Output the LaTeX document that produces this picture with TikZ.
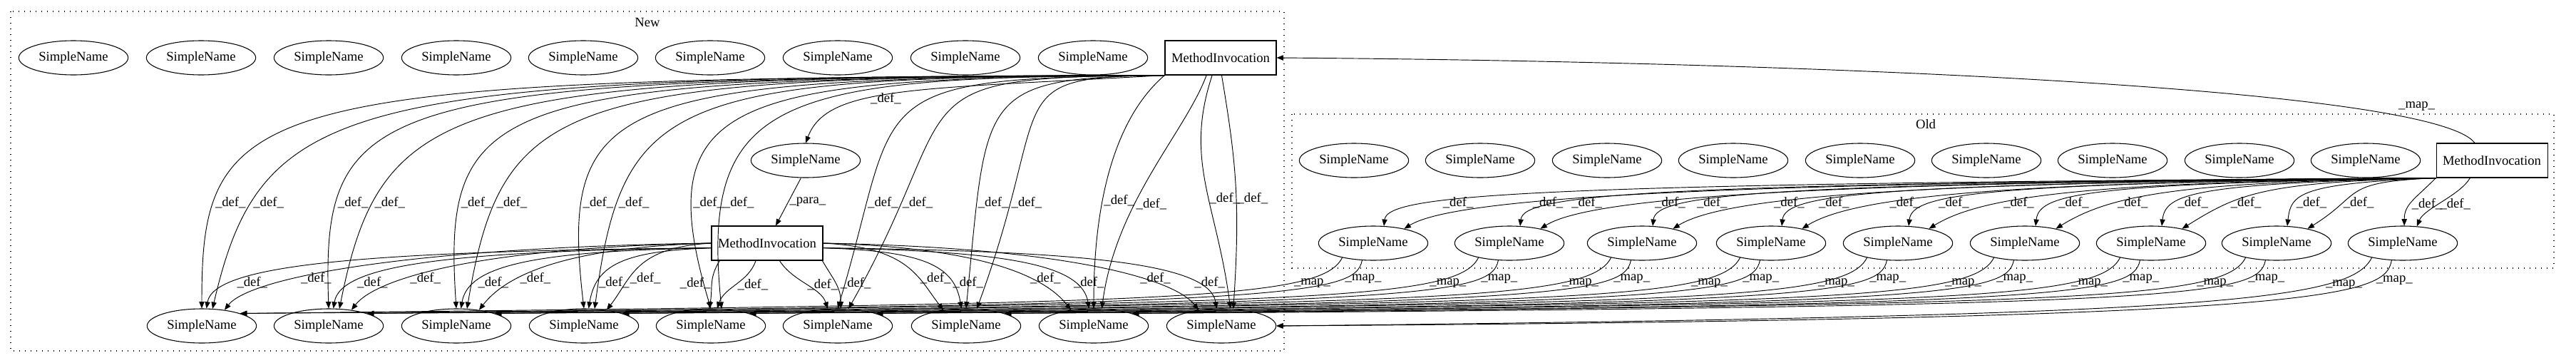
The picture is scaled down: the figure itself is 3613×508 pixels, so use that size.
\documentclass[tikz,border=0pt]{standalone}
\usepackage{fontspec}
\setmainfont{Liberation Serif}
\usepackage{tikz}
\usetikzlibrary{shapes.geometric, arrows.meta, positioning, calc}

\newcommand{\gvfont}{\fontsize{14pt}{16pt}\selectfont}

\tikzset{
  sname/.style={draw, ellipse, line width=0.8pt, minimum width=115pt, minimum height=36pt, inner sep=0pt, font=\gvfont},
  minv/.style={draw, rectangle, line width=0.8pt, minimum width=117pt, minimum height=36pt, inner sep=0pt, font=\gvfont},
  edge/.style={line width=0.7pt, -{Triangle[length=7pt, width=5.5pt]}},
  elab/.style={font=\gvfont, inner sep=1pt, right},
  cluster/.style={line width=0.9pt, dash pattern=on 1pt off 5pt},
}

\begin{document}
\begin{tikzpicture}[x=0.75pt, y=-0.75pt]
    \useasboundingbox (0,0) rectangle (3613,508);

    % the two clusters
    \draw[cluster] (15,16) rectangle (1801,492);
    \draw[cluster] (1812,160) rectangle (3582,376);
    \node[font=\gvfont] (newlab) at (908,31) {New};
    \node[font=\gvfont] (oldlab) at (2701,174) {Old};

    % New
    \foreach \i/\x in {1/103, 2/282, 3/461, 4/640, 5/818, 6/996, 7/1175, 8/1354, 9/1533}
        \node[sname] (nt\i) at (\x,81) {SimpleName};
    \node[minv] (tmi) at (1712,81) {MethodInvocation};
    \node[sname] (msn) at (1130,225) {SimpleName};
    \node[minv] (lmi) at (1076,341) {MethodInvocation};
    \foreach \k/\x in {1/283, 2/461, 3/640, 4/819, 5/997, 6/1175, 7/1355, 8/1534, 9/1713}
        \node[sname] (nb\k) at (\x,457) {SimpleName};

    % Old
    \foreach \i/\x in {1/1899, 2/2076, 3/2254, 4/2431, 5/2609, 6/2786, 7/2963, 8/3141, 9/3318}
        \node[sname] (ot\i) at (\x,225) {SimpleName};
    \node[minv] (omi) at (3495,225) {MethodInvocation};
    \foreach \j/\x in {1/1926, 2/2117, 3/2303, 4/2484, 5/2662, 6/2840, 7/3017, 8/3193, 9/3370}
        \node[sname] (om\j) at (\x,341) {SimpleName};

    % upper MethodInvocation (New)
    \draw[edge] (tmi.south west) .. controls ($(tmi.south west)+(-350,20)$) and ($(msn.north)+(30,-80)$) .. (msn.north) node[elab, pos=0.6] {\_def\_};
    \foreach \k/\x/\sa/\sb in {1/283/0/70, 2/461/-10/60, 3/640/-20/50, 4/819/-35/40, 5/997/-90/-30, 6/1175/90/170, 7/1355/30/110}{
        \pgfmathsetmacro\wa{0.95*(1634-\x)}
        \pgfmathsetmacro\wb{0.85*(1634-\x)}
        \draw[edge] (tmi.south west) .. controls ($(tmi.south west)+(-\wa,4)$) and ($(nb\k.90)+(\sa,-300)$) .. (nb\k.90) node[elab, pos=0.8] {\_def\_};
        \draw[edge] (tmi.south west) .. controls ($(tmi.south west)+(-\wb,2)$) and ($(nb\k.58)+(\sb,-300)$) .. (nb\k.58) node[elab, pos=0.8] {\_def\_};
    }
    \draw[edge] (tmi.south west) .. controls ($(tmi.south west)+(-70,60)$) and ($(nb8.90)+(0,-150)$) .. (nb8.90) node[elab, pos=0.63] {\_def\_};
    \draw[edge] ([xshift=44pt]tmi.south west) .. controls ($(tmi.south west)+(29,80)$) and ($(nb8.65)+(20,-150)$) .. (nb8.65) node[elab, pos=0.63] {\_def\_};
    \draw[edge] ([xshift=50pt]tmi.south west) .. controls ($(tmi.south west)+(27,120)$) and ($(nb9.62)+(-20,-150)$) .. (nb9.62) node[elab, pos=0.57] {\_def\_};
    \draw[edge] ([xshift=60pt]tmi.south west) .. controls ($(tmi.south west)+(100,120)$) and ($(nb9.55)+(10,-150)$) .. (nb9.55) node[elab, pos=0.57] {\_def\_};

    \draw[edge] (msn.255) -- ([xshift=9pt]lmi.north) node[elab, pos=0.5] {\_para\_};

    % lower MethodInvocation (New)
    \foreach \k/\x in {1/283, 2/461, 3/640, 4/819}{
        \pgfmathsetmacro\wa{0.6*(998-\x)}
        \pgfmathsetmacro\wb{0.7*(998-\x)}
        \draw[edge] (lmi.west) .. controls ($(lmi.west)+(-\wa,6)$) and ($(nb\k.35)+(35,-45)$) .. (nb\k.35) node[elab, pos=0.65] {\_def\_};
        \draw[edge] ([yshift=-5pt]lmi.west) .. controls ($(lmi.west)+(-\wb,11)$) and ($(nb\k.75)+(10,-60)$) .. (nb\k.75) node[elab, pos=0.76] {\_def\_};
    }
    \draw[edge] ([xshift=-50pt]lmi.south) .. controls ($(lmi.south)+(-82,25)$) and ($(nb5.95)+(5,-30)$) .. (nb5.95) node[elab, left, pos=0.5] {\_def\_};
    \draw[edge] ([xshift=-12pt]lmi.south) .. controls ($(lmi.south)+(-26,30)$) and ($(nb5.70)+(10,-30)$) .. (nb5.70) node[elab, pos=0.5] {\_def\_};
    \draw[edge] ([xshift=13pt]lmi.south) .. controls ($(lmi.south)+(37,30)$) and ($(nb6.120)+(-10,-30)$) .. (nb6.120) node[elab, pos=0.5] {\_def\_};
    \draw[edge] ([xshift=58pt]lmi.south) .. controls ($(lmi.south)+(92,25)$) and ($(nb6.80)+(0,-30)$) .. (nb6.80) node[elab, pos=0.5, xshift=4pt] {\_def\_};
    \foreach \k/\x in {7/1355, 8/1534, 9/1713}{
        \pgfmathsetmacro\wa{0.6*(\x-1153)}
        \pgfmathsetmacro\wb{0.7*(\x-1153)}
        \draw[edge] (lmi.east) .. controls ($(lmi.east)+(\wa,6)$) and ($(nb\k.145)+(-35,-45)$) .. (nb\k.145) node[elab, pos=0.65] {\_def\_};
        \draw[edge] ([yshift=-5pt]lmi.east) .. controls ($(lmi.east)+(\wb,11)$) and ($(nb\k.105)+(-10,-60)$) .. (nb\k.105) node[elab, pos=0.76] {\_def\_};
    }

    % MethodInvocation (Old)
    \foreach \j/\x in {1/1926, 2/2117, 3/2303, 4/2484, 5/2662, 6/2840, 7/3017, 8/3193}{
        \pgfmathsetmacro\wa{0.85*(3419-\x)}
        \pgfmathsetmacro\wb{0.6*(3419-\x)}
        \draw[edge] (omi.south west) .. controls ($(omi.south west)+(-\wa,8)$) and ($(om\j.58)+(5,-45)$) .. (om\j.58) node[elab, pos=0.7] {\_def\_};
        \draw[edge] (omi.south west) .. controls ($(omi.south west)+(-\wb,6)$) and ($(om\j.25)+(80,-50)$) .. (om\j.25) node[elab, pos=0.7] {\_def\_};
    }
    \draw[edge] (omi.south west) .. controls ($(omi.south west)+(-30,30)$) and ($(om9.85)+(0,-30)$) .. (om9.85) node[elab, pos=0.55] {\_def\_};
    \draw[edge] ([xshift=36pt]omi.south west) .. controls ($(omi.south west)+(33,25)$) and ($(om9.50)+(10,-25)$) .. (om9.50) node[elab, pos=0.55] {\_def\_};

    % mappings Old -> New
    \draw[edge] ([xshift=-18pt]omi.north) .. controls ($(omi.north)+(-84,-80)$) and ($(tmi.east)+(700,5)$) .. (tmi.east) node[elab, anchor=south, pos=0.15, yshift=8pt] {\_map\_};
    \foreach \j/\xo/\xn/\an in {1/1926/283/18, 2/2117/461/18, 3/2303/640/18, 4/2484/819/18, 5/2662/997/18, 6/2840/1175/18, 7/3017/1355/18, 8/3193/1534/18, 9/3370/1713/0}{
        \pgfmathsetmacro\da{0.8*(\xo-\xn)}
        \pgfmathsetmacro\db{0.9*(\xo-\xn)}
        \draw[edge] (om\j.205) .. controls ($(om\j.205)+(-30,60)$) and ($(nb\j.\an)+(\da,-14)$) .. (nb\j.\an) node[elab, pos=0.25] {\_map\_};
        \draw[edge] (om\j.237) .. controls ($(om\j.237)+(-10,50)$) and ($(nb\j.\an)+(\db,-10)$) .. (nb\j.\an) node[elab, pos=0.2] {\_map\_};
    }
\end{tikzpicture}
\end{document}
